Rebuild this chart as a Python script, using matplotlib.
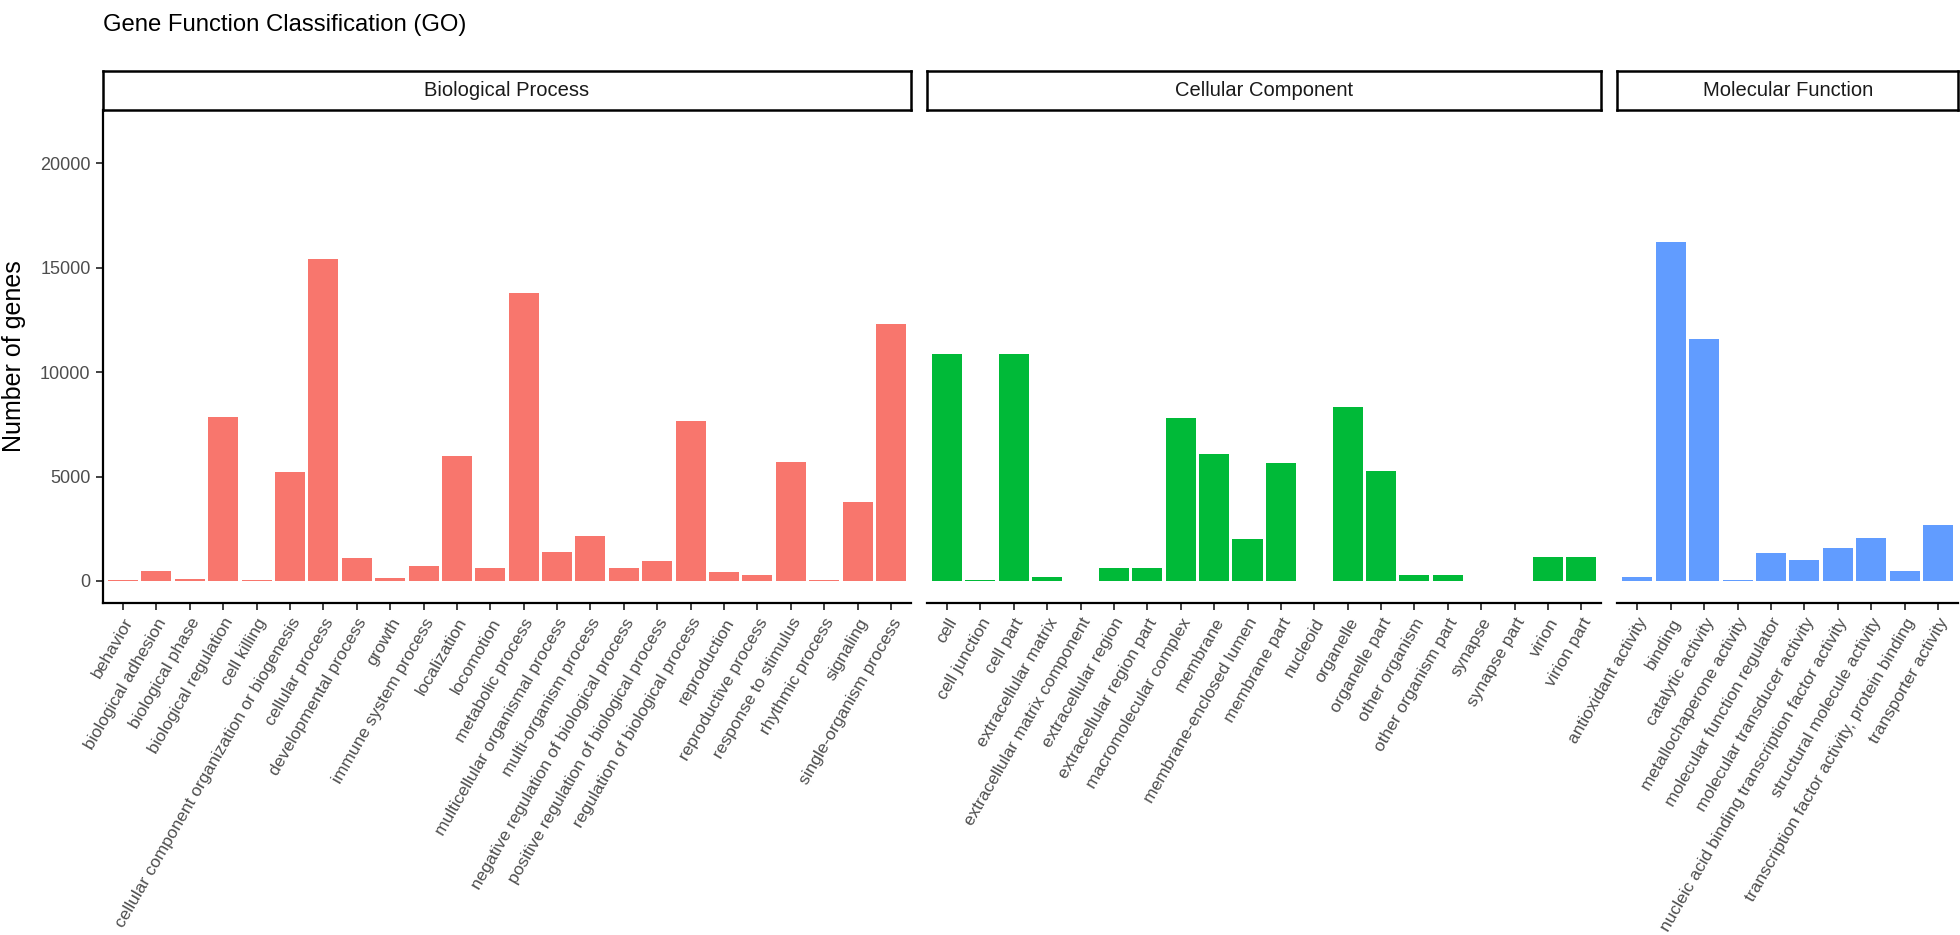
import matplotlib
matplotlib.use('Agg')

import matplotlib.pyplot as plt

plt.rcParams['font.family'] = ['Liberation Sans', 'DejaVu Sans']

# GO terms per ontology
bp_terms = ["behavior", "biological adhesion", "biological phase", "biological regulation",
            "cell killing", "cellular component organization or biogenesis", "cellular process",
            "developmental process", "growth", "immune system process", "localization",
            "locomotion", "metabolic process", "multicellular organismal process",
            "multi-organism process", "negative regulation of biological process",
            "positive regulation of biological process", "regulation of biological process",
            "reproduction", "reproductive process", "response to stimulus", "rhythmic process",
            "signaling", "single-organism process"]
bp_counts = [35, 495, 96, 7873, 30, 5206, 15443, 1102, 144, 703, 6005, 639, 13782, 1373,
             2172, 639, 974, 7650, 447, 271, 5701, 20, 3769, 12329]

cc_terms = ["cell", "cell junction", "cell part", "extracellular matrix",
            "extracellular matrix component", "extracellular region", "extracellular region part",
            "macromolecular complex", "membrane", "membrane-enclosed lumen", "membrane part",
            "nucleoid", "organelle", "organelle part", "other organism", "other organism part",
            "synapse", "synapse part", "virion", "virion part"]
cc_counts = [10860, 45, 10860, 176, 3, 623, 623, 7810, 6101, 1996, 5654, 3, 8353, 5286,
             271, 271, 5, 3, 1134, 1134]

mf_terms = ["antioxidant activity", "binding", "catalytic activity", "metallochaperone activity",
            "molecular function regulator", "molecular transducer activity",
            "nucleic acid binding transcription factor activity", "structural molecule activity",
            "transcription factor activity, protein binding", "transporter activity"]
mf_counts = [171, 16253, 11604, 30, 1333, 991, 1555, 2051, 478, 2700]

facets = [("Biological Process", bp_terms, bp_counts, "#F8766D"),
          ("Cellular Component", cc_terms, cc_counts, "#00BA38"),
          ("Molecular Function", mf_terms, mf_counts, "#619CFF")]

W, H = 1960, 935
fig = plt.figure(figsize=(W / 100, H / 100), dpi=100)


def px_axes(x0, x1, y0, y1):
    return fig.add_axes([x0 / W, 1 - y1 / H, (x1 - x0) / W, (y1 - y0) / H])


left, right, gap = 103, 1958, 16
strip_top, panel_top, panel_bottom = 71, 110, 603
units = sum(len(t) + 0.2 for _, t, _, _ in facets)
unit = (right - left - gap * (len(facets) - 1)) / units

x0 = left
for i, (name, terms, counts, color) in enumerate(facets):
    w = (len(terms) + 0.2) * unit
    ax = px_axes(x0, x0 + w, panel_top, panel_bottom)
    ax.bar(range(len(terms)), counts, width=0.9, color=color)
    ax.set_xlim(-0.6, len(terms) - 0.4)
    ax.set_ylim(-1060, 22560)
    ax.set_xticks(range(len(terms)))
    ax.set_xticklabels(terms, rotation=60, ha='right', va='top', rotation_mode='anchor',
                       fontsize=12.5, color='#4D4D4D')
    for s in ['top', 'right']:
        ax.spines[s].set_visible(False)
    ax.spines['bottom'].set_linewidth(1.6)
    ax.tick_params(axis='both', length=5, width=1.3, color='#333333', pad=4)
    if i == 0:
        ax.spines['left'].set_linewidth(1.6)
        ax.set_yticks([0, 5000, 10000, 15000, 20000])
        ax.set_yticklabels(['0', '5000', '10000', '15000', '20000'], fontsize=13,
                           color='#4D4D4D')
        ax.set_ylabel("Number of genes", fontsize=18, labelpad=10)
    else:
        ax.spines['left'].set_visible(False)
        ax.set_yticks([])

    # facet strip
    sax = px_axes(x0, x0 + w, strip_top, panel_top)
    sax.set_xticks([])
    sax.set_yticks([])
    for s in sax.spines.values():
        s.set_linewidth(1.8)
    sax.text(0.5, 0.5, name, ha='center', va='center', fontsize=14.5, color='#1A1A1A',
             transform=sax.transAxes)
    x0 += w + gap

fig.text(left / W, 1 - 31 / H, "Gene Function Classification (GO)", fontsize=17.2,
         ha='left', va='baseline')

fig.savefig('out.png', dpi=100)
